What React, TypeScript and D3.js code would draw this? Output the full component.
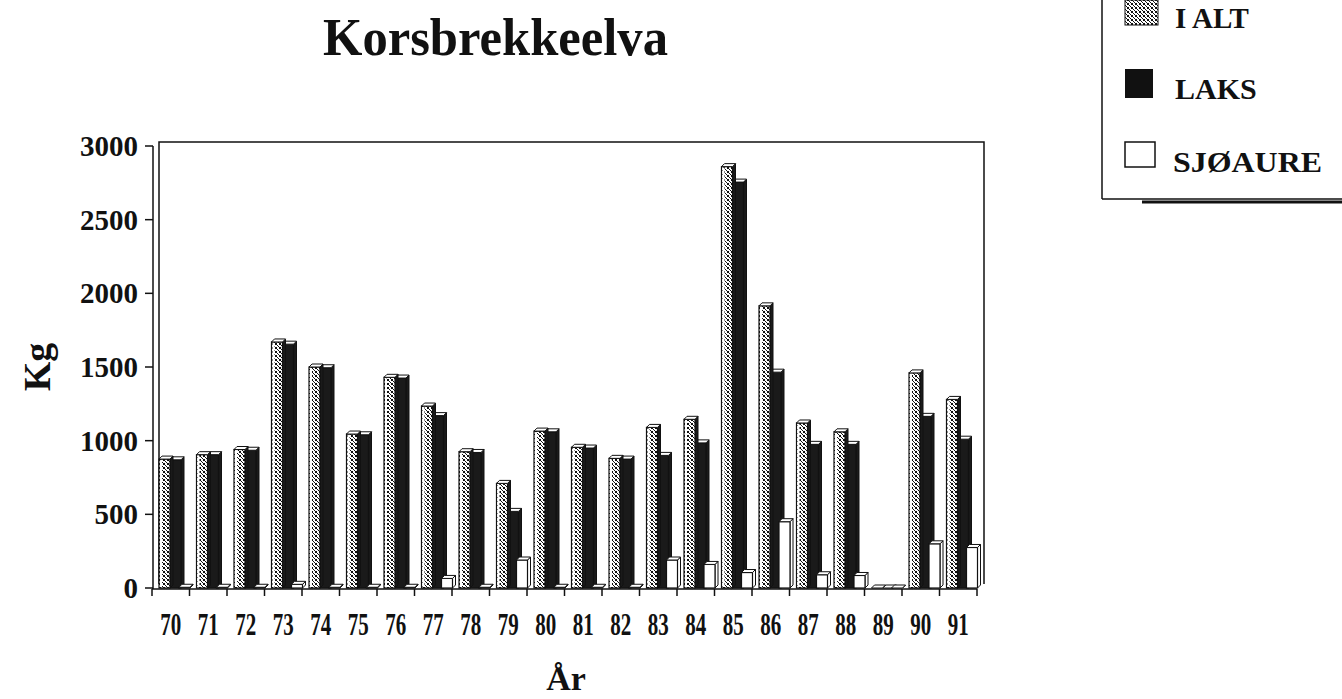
import React from 'react'
import { scaleBand, scaleLinear, range } from 'd3'

// values (kg)
const years = ['70', '71', '72', '73', '74', '75', '76', '77', '78', '79', '80',
  '81', '82', '83', '84', '85', '86', '87', '88', '89', '90', '91']
const iAlt = [875, 905, 940, 1670, 1500, 1045, 1430, 1235, 925, 710, 1065,
  955, 880, 1090, 1145, 2860, 1915, 1120, 1060, 0, 1460, 1280]
const laks = [870, 905, 935, 1655, 1495, 1040, 1425, 1170, 920, 520, 1060,
  950, 875, 900, 985, 2755, 1465, 975, 975, 0, 1165, 1010]
const sjoaure = [5, 5, 5, 25, 5, 5, 5, 65, 5, 190, 5,
  5, 5, 190, 160, 105, 450, 90, 85, 0, 300, 275]
const yTicks = [0, 500, 1000, 1500, 2000, 2500, 3000]
const seriesNames = ['I ALT', 'LAKS', 'SJØAURE']

const FONT = '"Liberation Serif", "Times New Roman", serif'
const W = 1342
const H = 699

const x = scaleBand().domain(years).range([152, 977]).padding(0)
const inner = scaleBand().domain(seriesNames).range([7, 37]).padding(0)
const y = scaleLinear().domain([0, 3000]).range([588, 146])

const DX = 3
const DY = 3

function Bar({ x0, w, v, fill, stroke = '#111' }) {
  const yTop = y(v)
  const yBase = y(0)
  const top = `${x0},${yTop} ${x0 + DX},${yTop - DY} ${x0 + w + DX},${yTop - DY} ${x0 + w},${yTop}`
  const side = `${x0 + w},${yTop} ${x0 + w + DX},${yTop - DY} ${x0 + w + DX},${yBase - DY} ${x0 + w},${yBase}`
  return (
    <g>
      <polygon points={side} fill={fill === 'url(#hatch)' ? '#1a1a1a' : fill} stroke={stroke} strokeWidth={1} />
      <rect x={x0} y={yTop} width={w} height={Math.max(0, yBase - yTop)} fill={fill} stroke={stroke} strokeWidth={1.2} />
      {fill === 'url(#hatch)' && v > 0 && (
        <rect x={x0 + 1} y={yTop + 1} width={2} height={Math.max(0, yBase - yTop - 2)} fill="#fff" />
      )}
      <polygon points={top} fill="#fff" stroke={stroke} strokeWidth={1} />
    </g>
  )
}

export default function App() {
  const bw = inner.bandwidth() + 1
  return (
    <svg width={W} height={H} style={{ position: 'absolute', left: 0, top: 0, background: '#fff' }}
      fontFamily={FONT} fontWeight="bold">
      <defs>
        <pattern id="hatch" width={4} height={4} patternUnits="userSpaceOnUse">
          <rect width={4} height={4} fill="#fff" />
          <rect x={0} y={0} width={1} height={1} fill="#111" />
          <rect x={1} y={1} width={1} height={1} fill="#111" />
          <rect x={2} y={2} width={1} height={1} fill="#111" />
          <rect x={3} y={3} width={1} height={1} fill="#111" />
          <rect x={3} y={0} width={1} height={1} fill="#111" />
          <rect x={0} y={3} width={1} height={1} fill="#111" />
        </pattern>
      </defs>

      {/* title */}
      <text x={323} y={55} fontSize={52} textLength={345} lengthAdjust="spacingAndGlyphs" fill="#111">
        Korsbrekkeelva
      </text>

      {/* back wall */}
      <polyline points={`159,584 159,142 984,142 984,584`} fill="none" stroke="#111" strokeWidth={1.5} />

      {/* bars */}
      {years.map((yr, i) => {
        const bx = x(yr)
        return (
          <g key={yr}>
            <Bar x0={bx + inner('LAKS') + 1} w={bw} v={laks[i]} fill="#1a1a1a" />
            <Bar x0={bx + inner('I ALT')} w={bw} v={iAlt[i]} fill="url(#hatch)" />
            <Bar x0={bx + inner('SJØAURE')} w={bw} v={sjoaure[i]} fill="#fff" />
          </g>
        )
      })}

      {/* y axis */}
      <line x1={153} x2={153} y1={y(0) + 1} y2={y(3000)} stroke="#111" strokeWidth={1.5} />
      {yTicks.map(t => (
        <g key={t}>
          <line x1={145} x2={153} y1={y(t)} y2={y(t)} stroke="#111" strokeWidth={1.5} />
          <text x={138} y={y(t) + 10} fontSize={29} textAnchor="end" fill="#111">{t}</text>
        </g>
      ))}

      {/* x axis */}
      <line x1={152} x2={977} y1={y(0) + 1} y2={y(0) + 1} stroke="#111" strokeWidth={1.5} />
      {range(years.length + 1).map(k => {
        const px = 152 + k * x.step()
        return <line key={k} x1={px} x2={px} y1={y(0) + 1} y2={y(0) + 8} stroke="#111" strokeWidth={1.5} />
      })}
      {years.map(yr => (
        <text key={yr} x={x(yr) + x.bandwidth() / 2} y={635} fontSize={32} textAnchor="middle"
          textLength={21} lengthAdjust="spacingAndGlyphs" fill="#111">{yr}</text>
      ))}

      {/* axis titles */}
      <text x={566} y={690} fontSize={34} textAnchor="middle" fill="#111">År</text>
      <text transform="translate(50,367) rotate(-90)" fontSize={38} textAnchor="middle" fill="#111">Kg</text>

      {/* legend */}
      <line x1={1102} x2={1102} y1={0} y2={199} stroke="#111" strokeWidth={1.5} />
      <line x1={1102} x2={W} y1={199} y2={199} stroke="#111" strokeWidth={1.5} />
      <line x1={1142} x2={W} y1={202} y2={202} stroke="#111" strokeWidth={3} />
      <rect x={1125} y={0} width={33} height={25} fill="url(#hatch)" stroke="#111" strokeWidth={1} />
      <rect x={1125} y={69} width={28} height={29} fill="#111" />
      <rect x={1125} y={142} width={30} height={25} fill="#fff" stroke="#111" strokeWidth={1.5} />
      <text x={1175} y={28} fontSize={29} fill="#111">I ALT</text>
      <text x={1175} y={99} fontSize={30} fill="#111">LAKS</text>
      <text x={1173} y={172} fontSize={30} textLength={149} lengthAdjust="spacingAndGlyphs" fill="#111">SJØAURE</text>
    </svg>
  )
}
